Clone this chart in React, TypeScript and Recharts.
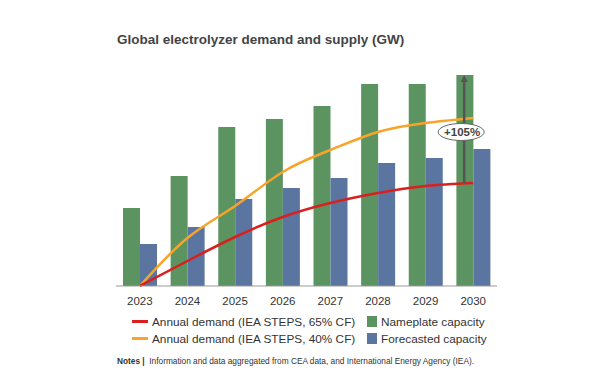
import React from 'react'
import {
  ComposedChart,
  Bar,
  Line,
  XAxis,
  YAxis,
  ReferenceLine,
} from 'recharts'

// values (GW, relative scale)
const years = ['2023', '2024', '2025', '2026', '2027', '2028', '2029', '2030']
const nameplate = [78, 110, 159, 167, 180, 202, 202, 211]
const forecasted = [42, 59, 87, 98, 108, 123, 128, 137]
const demand65 = [0, 25, 49, 69, 83, 93, 100, 103]
const demand40 = [0, 48, 80, 114, 136, 154, 163, 168]

const data = years.map((year, i) => ({
  year,
  nameplate: nameplate[i],
  forecasted: forecasted[i],
  demand65: demand65[i],
  demand40: demand40[i],
}))

const GREEN = '#5b9460'
const BLUE = '#5a76a0'
const RED = '#d9201f'
const ORANGE = '#f7a52a'
const FONT = '"Liberation Sans", Arial, sans-serif'

const ArrowShape = (props: any) => {
  const { x1, y1, y2 } = props
  const x = x1 - 9
  const top = Math.min(y1, y2)
  const bottom = Math.max(y1, y2)
  const labelY = top + 57
  return (
    <g>
      <line x1={x} y1={bottom} x2={x} y2={top + 5} stroke="#555" strokeWidth={2.5} />
      <path d={`M${x - 3.5},${top + 7} L${x},${top} L${x + 3.5},${top + 7} Z`} fill="#555" />
      <ellipse cx={x - 3} cy={labelY} rx={23} ry={8.5} fill="#fff" stroke="#666" strokeWidth={1} />
      <text
        x={x - 2}
        y={labelY + 4.2}
        textAnchor="middle"
        fontFamily={FONT}
        fontSize={11.5}
        fontWeight="bold"
        fill="#444"
      >
        +105%
      </text>
    </g>
  )
}

const LegendRow = ({ color, line, label }: { color: string; line: boolean; label: string }) => (
  <div style={{ display: 'flex', alignItems: 'center', height: 17 }}>
    {line ? (
      <div style={{ width: 16, height: 2.5, background: color, marginRight: 4 }} />
    ) : (
      <div style={{ width: 10, height: 11, background: color, marginRight: 4 }} />
    )}
    <span>{label}</span>
  </div>
)

export default function App() {
  return (
    <div
      style={{
        position: 'absolute',
        left: 0,
        top: 0,
        width: 605,
        height: 390,
        background: '#fff',
        fontFamily: FONT,
      }}
    >
      <div
        style={{
          position: 'absolute',
          left: 117,
          top: 32,
          fontSize: 13.5,
          fontWeight: 'bold',
          color: '#444',
        }}
      >
        Global electrolyzer demand and supply (GW)
      </div>
      <ComposedChart
        width={605}
        height={390}
        data={data}
        margin={{ top: 60, left: 116, right: 108, bottom: 74 }}
        barGap={0}
      >
        <XAxis
          dataKey="year"
          height={30}
          tickLine={false}
          axisLine={{ stroke: '#999' }}
          tick={{ fill: '#333', fontSize: 11.5, fontFamily: FONT }}
          tickMargin={5}
        />
        <YAxis hide domain={[0, 226]} />
        <Bar dataKey="nameplate" fill={GREEN} barSize={17} isAnimationActive={false} />
        <Bar dataKey="forecasted" fill={BLUE} barSize={17} isAnimationActive={false} />
        <Line
          dataKey="demand40"
          type="natural"
          stroke={ORANGE}
          strokeWidth={2.5}
          dot={false}
          isAnimationActive={false}
        />
        <Line
          dataKey="demand65"
          type="natural"
          stroke={RED}
          strokeWidth={2.5}
          dot={false}
          isAnimationActive={false}
        />
        <ReferenceLine
          segment={[
            { x: '2030', y: demand65[7] },
            { x: '2030', y: nameplate[7] },
          ]}
          shape={ArrowShape}
        />
      </ComposedChart>
      <div
        style={{
          position: 'absolute',
          left: 132,
          top: 313,
          fontSize: 11.8,
          color: '#333',
        }}
      >
        <LegendRow color={RED} line label="Annual demand (IEA STEPS, 65% CF)" />
        <LegendRow color={ORANGE} line label="Annual demand (IEA STEPS, 40% CF)" />
      </div>
      <div
        style={{
          position: 'absolute',
          left: 367,
          top: 313,
          fontSize: 11.8,
          color: '#333',
        }}
      >
        <LegendRow color={GREEN} line={false} label="Nameplate capacity" />
        <LegendRow color={BLUE} line={false} label="Forecasted capacity" />
      </div>
      <div
        style={{
          position: 'absolute',
          left: 117,
          top: 356,
          fontSize: 8.3,
          color: '#333',
        }}
      >
        <b>Notes |</b>&nbsp; Information and data aggregated from CEA data, and International Energy Agency (IEA).
      </div>
    </div>
  )
}
